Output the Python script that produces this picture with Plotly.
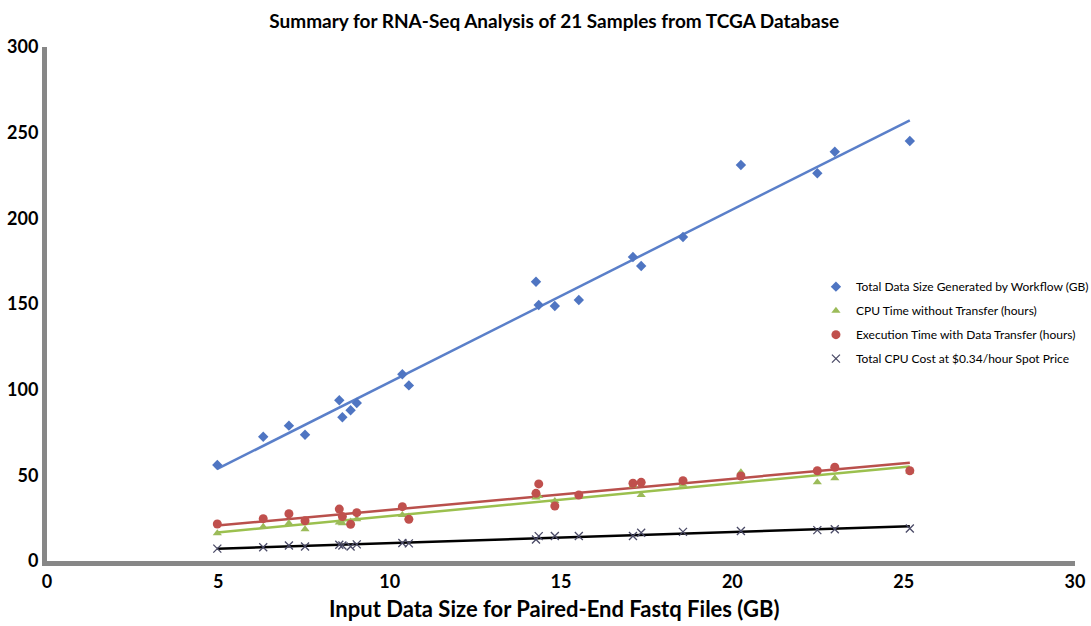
import numpy as np
import plotly.graph_objects as go

# Input data size (GB) for each of the 21 samples
input_gb = [4.97, 6.31, 7.06, 7.53, 8.53, 8.62, 8.86, 9.04, 10.37, 10.56, 14.27,
            14.35, 14.82, 15.52, 17.10, 17.34, 18.56, 20.25, 22.48, 22.99, 25.18]

total_data_gb = [56.0, 72.5, 79.0, 73.7, 93.8, 83.9, 88.0, 92.2, 109.0, 102.5, 163.0,
                 149.4, 148.8, 152.3, 177.4, 172.2, 189.1, 231.1, 226.3, 238.9, 245.1]

cpu_time_h = [16.2, 20.0, 22.0, 18.5, 22.4, 22.0, 23.0, 24.3, 26.8, 26.0, 37.0,
              38.0, 35.0, 37.4, 44.0, 38.5, 44.5, 51.8, 45.9, 48.3, 52.3]

exec_time_h = [21.6, 24.7, 27.6, 23.5, 30.3, 25.9, 21.4, 28.2, 31.7, 24.3, 39.5,
               45.0, 32.1, 38.5, 45.4, 45.9, 46.9, 49.6, 52.7, 54.7, 52.7]

cpu_cost_usd = [7.2, 8.0, 9.0, 8.5, 9.5, 9.0, 8.5, 9.7, 10.5, 10.3, 12.5,
                14.5, 14.6, 14.6, 14.6, 16.5, 17.0, 17.5, 18.0, 18.5, 19.0]

x_ticks = [0, 5, 10, 15, 20, 25, 30]
y_ticks = [0, 50, 100, 150, 200, 250, 300]

series = [
    ("Total Data Size Generated by Workflow (GB)", total_data_gb, "diamond", 8, "#4F75C2", "#5A7FC9"),
    ("CPU Time without Transfer (hours)", cpu_time_h, "triangle-up", 8, "#9BBB59", "#9BC04E"),
    ("Execution Time with Data Transfer (hours)", exec_time_h, "circle", 9, "#C0504D", "#B9504C"),
    ("Total CPU Cost at $0.34/hour Spot Price", cpu_cost_usd, "x-thin", 8, "#4A4A66", "#000000"),
]

fig = go.Figure()
xs = np.array(input_gb)
xline = np.array([xs.min(), xs.max()])

# trend lines first (under markers)
for name, ys, sym, size, mcol, lcol in series:
    slope, icpt = np.polyfit(xs, np.array(ys), 1)
    fig.add_trace(go.Scatter(x=xline, y=slope * xline + icpt, mode="lines",
                             line=dict(color=lcol, width=2.5), showlegend=False,
                             hoverinfo="skip"))

for i, (name, ys, sym, size, mcol, lcol) in enumerate(series):
    mk = dict(symbol=sym, size=size, color=mcol)
    if sym == "x-thin":
        mk["line"] = dict(color=mcol, width=1.3)
    fig.add_trace(go.Scatter(x=input_gb, y=ys, mode="markers", name=name,
                             marker=mk, legendgroup=f"g{i}"))

font_fam = "Lato, Open Sans, sans-serif"

fig.update_layout(
    width=1091, height=626,
    margin=dict(l=47, r=16, t=47, b=65, autoexpand=False),
    paper_bgcolor="white", plot_bgcolor="white",
    title=dict(text="Summary for RNA-Seq Analysis of 21 Samples from TCGA Database",
               x=0.508, xanchor="center", y=0.966, yanchor="middle",
               font=dict(family=font_fam, size=19, color="black", weight="bold")),
    xaxis=dict(range=[0, 30], tickvals=x_ticks, showgrid=False, zeroline=False,
               showline=True, linecolor="#878787", linewidth=5, ticks="", automargin=False,
               tickfont=dict(family=font_fam, size=18, color="black", weight="bold")),
    yaxis=dict(range=[0, 300], tickvals=y_ticks, showgrid=False, zeroline=False,
               showline=True, linecolor="#878787", linewidth=5, ticks="", automargin=False,
               tickfont=dict(family=font_fam, size=18, color="black", weight="bold")),
    legend=dict(x=0.748, y=0.562, xanchor="left", yanchor="top",
                font=dict(family=font_fam, size=12, color="black"),
                tracegroupgap=5, bgcolor="rgba(0,0,0,0)"),
    annotations=[dict(text="Input Data Size for Paired-End Fastq Files (GB)",
                      xref="paper", yref="paper", x=0.493, y=-0.092,
                      xanchor="center", yanchor="middle", showarrow=False,
                      font=dict(family=font_fam, size=22, color="black", weight="bold"))],
)

fig.write_html("out.html", config={"displayModeBar": False},
               post_script="document.body.style.margin='0px';")
